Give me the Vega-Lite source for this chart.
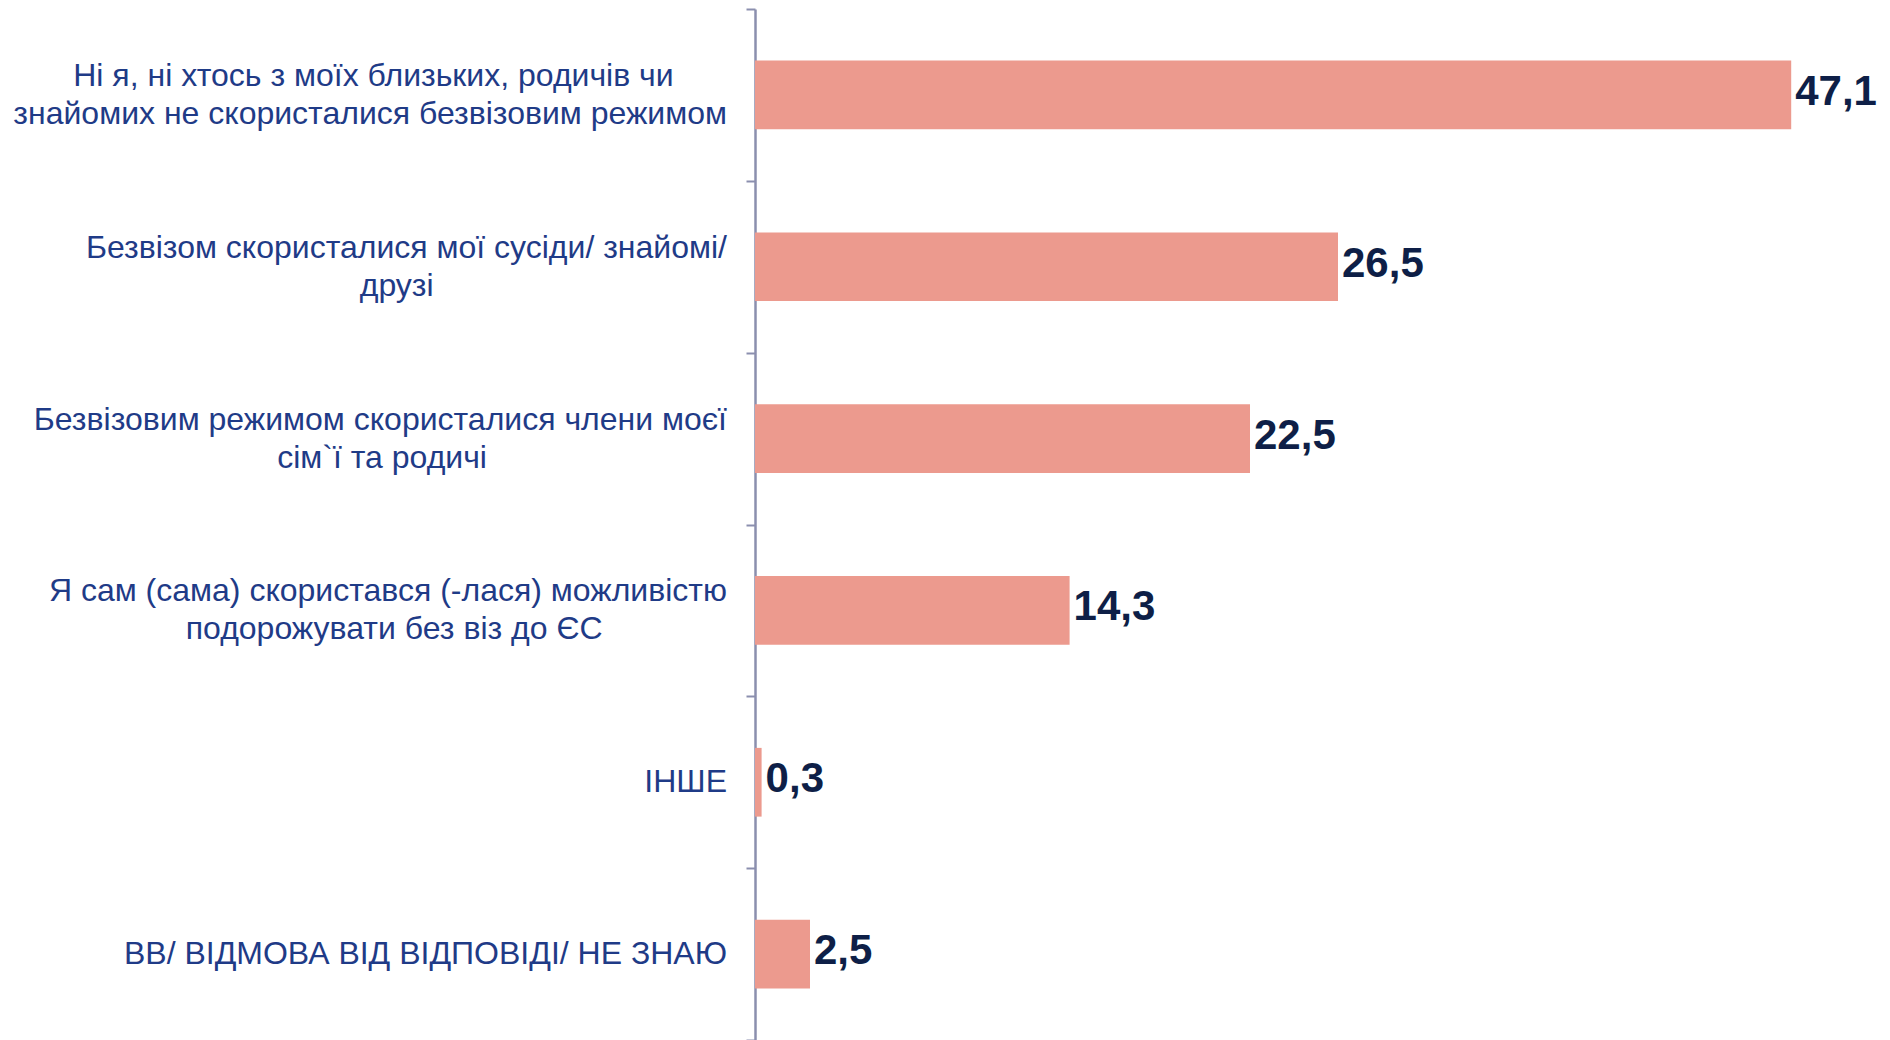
{
  "$schema": "https://vega.github.io/schema/vega-lite/v6.json",
  "autosize": "none",
  "width": 1100,
  "height": 1031,
  "padding": {"left": 755, "top": 9, "right": 35, "bottom": 0},
  "background": "white",
  "config": {
    "view": {"stroke": null},
    "locale": {"number": {"decimal": ",", "thousands": "\u00a0", "grouping": [3], "currency": ["", ""]}}
  },
  "data": {
    "values": [
      {"cat": "Ні я, ні хтось з моїх близьких, родичів чи|знайомих не скористалися безвізовим режимом", "v": 47.1},
      {"cat": "Безвізом скористалися мої сусіди/ знайомі/|друзі", "v": 26.5},
      {"cat": "Безвізовим режимом скористалися члени моєї|сім`ї та родичі", "v": 22.5},
      {"cat": "Я сам (сама) скористався (-лася) можливістю|подорожувати без віз до ЄС", "v": 14.3},
      {"cat": "ІНШЕ", "v": 0.3},
      {"cat": "ВВ/ ВІДМОВА ВІД ВІДПОВІДІ/ НЕ ЗНАЮ", "v": 2.5}
    ]
  },
  "encoding": {
    "y": {
      "field": "cat",
      "type": "nominal",
      "sort": null,
      "scale": {"paddingInner": 0, "paddingOuter": 0},
      "axis": {
        "title": null,
        "labels": false,
        "tickBand": "extent",
        "domainColor": "#8B8FAE",
        "domainWidth": 2.5,
        "tickColor": "#8B8FAE",
        "tickWidth": 2,
        "tickSize": 9
      }
    },
    "x": {
      "field": "v",
      "type": "quantitative",
      "scale": {"domain": [0, 50], "nice": false},
      "axis": null
    }
  },
  "layer": [
    {
      "mark": {"type": "bar", "color": "#EC9A8E", "height": {"band": 0.4}}
    },
    {
      "mark": {"type": "text", "align": "left", "baseline": "middle", "dx": 4, "dy": -3, "font": "Liberation Sans", "fontWeight": "bold", "fontSize": 42, "color": "#0E1F47"},
      "encoding": {"text": {"field": "v", "type": "quantitative", "format": ".1f"}}
    },
    {
      "transform": [
        {"filter": "indexof(datum.cat, '|') >= 0"},
        {"calculate": "[pad(split(datum.cat,'|')[0], length(split(datum.cat,'|')[0]) + max(0, round((length(split(datum.cat,'|')[1]) - 0.5*length(replace(split(datum.cat,'|')[1], regexp('[^ ,./`()іїІ-]','g'), ''))) - (length(split(datum.cat,'|')[0]) - 0.5*length(replace(split(datum.cat,'|')[0], regexp('[^ ,./`()іїІ-]','g'), ''))))), '\u00a0') + '\u200b', pad(split(datum.cat,'|')[1], length(split(datum.cat,'|')[1]) + max(0, round((length(split(datum.cat,'|')[0]) - 0.5*length(replace(split(datum.cat,'|')[0], regexp('[^ ,./`()іїІ-]','g'), ''))) - (length(split(datum.cat,'|')[1]) - 0.5*length(replace(split(datum.cat,'|')[1], regexp('[^ ,./`()іїІ-]','g'), ''))))), '\u00a0') + '\u200b']", "as": "lbl"}
      ],
      "mark": {"type": "text", "align": "right", "baseline": "middle", "dx": -28, "dy": -19, "lineHeight": 38, "font": "Liberation Sans", "fontSize": 32, "color": "#1F3B87"},
      "encoding": {
        "x": {"datum": 0},
        "text": {"field": "lbl", "type": "nominal"}
      }
    },
    {
      "transform": [{"filter": "indexof(datum.cat, '|') < 0"}],
      "mark": {"type": "text", "align": "right", "baseline": "middle", "dx": -28, "font": "Liberation Sans", "fontSize": 32, "color": "#1F3B87"},
      "encoding": {
        "x": {"datum": 0},
        "text": {"field": "cat", "type": "nominal"}
      }
    }
  ]
}
